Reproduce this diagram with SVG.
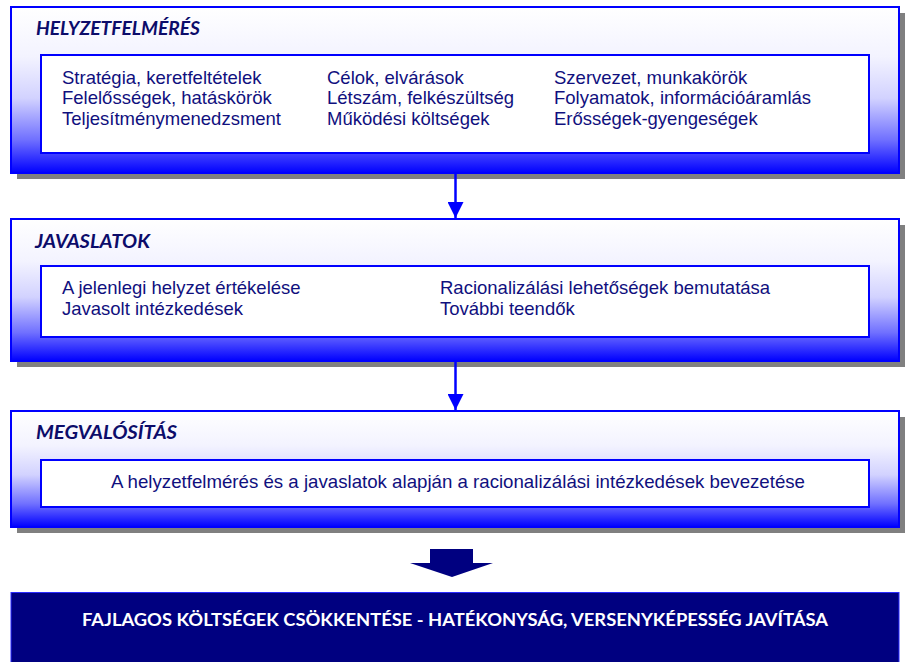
<svg xmlns="http://www.w3.org/2000/svg" width="907" height="662" viewBox="0 0 907 662">
<defs>
<linearGradient id="g" x1="0" y1="0" x2="0" y2="1">
<stop offset="0" stop-color="#ffffff"/>
<stop offset="0.3" stop-color="#f3f3ff"/>
<stop offset="0.55" stop-color="#d2d2ff"/>
<stop offset="0.8" stop-color="#7070ff"/>
<stop offset="1" stop-color="#0000ff"/>
</linearGradient>
<marker id="ah" viewBox="0 0 16 16" refX="16" refY="8" markerWidth="16" markerHeight="16" markerUnits="userSpaceOnUse" orient="auto">
<path d="M0,0 L16,8 L0,16 Z" fill="#0000ff"/>
</marker>
<style>
.shadow{fill:#808080}
.outer{fill:url(#g);stroke:#0000ff;stroke-width:2}
.inner{fill:#ffffff;stroke:#0000ff;stroke-width:2}
.title{font-family:Lato,"Liberation Sans",sans-serif;font-weight:bold;font-style:italic;font-size:18px;fill:#0c0c6a}
.body{font-family:"Liberation Sans",Arial,sans-serif;font-size:18.5px;fill:#10107e}
.conn{stroke:#0000ff;stroke-width:2.5;fill:none}
.final{font-family:Lato,"Liberation Sans",sans-serif;font-weight:bold;font-size:16.5px;fill:#ffffff}
</style>
</defs>

<g id="helyzetfelmeres">
<rect class="shadow" x="17" y="13" width="888" height="166"/>
<rect class="outer" x="11" y="7" width="888" height="166"/>
<text class="title" x="36" y="35" textLength="164" lengthAdjust="spacingAndGlyphs">HELYZETFELMÉRÉS</text>
<rect class="inner" x="41" y="55" width="828" height="98"/>
<text class="body" x="62" y="83.5">Stratégia, keretfeltételek</text>
<text class="body" x="62" y="104">Felelősségek, hatáskörök</text>
<text class="body" x="62" y="125">Teljesítménymenedzsment</text>
<text class="body" x="327" y="83.5">Célok, elvárások</text>
<text class="body" x="327" y="104">Létszám, felkészültség</text>
<text class="body" x="327" y="125">Működési költségek</text>
<text class="body" x="554" y="83.5">Szervezet, munkakörök</text>
<text class="body" x="554" y="104">Folyamatok, információáramlás</text>
<text class="body" x="554" y="125">Erősségek-gyengeségek</text>
</g>

<g id="javaslatok">
<rect class="shadow" x="17" y="225" width="888" height="142"/>
<rect class="outer" x="11" y="219" width="888" height="142"/>
<text class="title" x="35" y="247.5" textLength="115" lengthAdjust="spacingAndGlyphs">JAVASLATOK</text>
<rect class="inner" x="41" y="266" width="828" height="71"/>
<text class="body" x="62" y="293.5">A jelenlegi helyzet értékelése</text>
<text class="body" x="62" y="314.5">Javasolt intézkedések</text>
<text class="body" x="440" y="293.5">Racionalizálási lehetőségek bemutatása</text>
<text class="body" x="440" y="314.5">További teendők</text>
</g>

<g id="megvalositas">
<rect class="shadow" x="17" y="417" width="888" height="116"/>
<rect class="outer" x="11" y="411" width="888" height="116"/>
<text class="title" x="36" y="439" textLength="141" lengthAdjust="spacingAndGlyphs">MEGVALÓSÍTÁS</text>
<rect class="inner" x="41" y="460" width="828" height="47"/>
<text class="body" x="111" y="488" font-size="17" textLength="694" lengthAdjust="spacingAndGlyphs">A helyzetfelmérés és a javaslatok alapján a racionalizálási intézkedések bevezetése</text>
</g>

<g id="eredmeny">
<path d="M430,549 L473,549 L473,563 L493,563 L452,577 L410,563 L430,563 Z" fill="#000080"/>
<rect x="11" y="592.5" width="888" height="75" fill="#000080" stroke="#2a2aff" stroke-width="1"/>
<text class="final" x="82" y="625.5" textLength="746" lengthAdjust="spacingAndGlyphs">FAJLAGOS KÖLTSÉGEK CSÖKKENTÉSE - HATÉKONYSÁG, VERSENYKÉPESSÉG JAVÍTÁSA</text>
</g>

<g id="connectors">
<line class="conn" x1="455.5" y1="174" x2="455.5" y2="218" marker-end="url(#ah)"/>
<line class="conn" x1="455.5" y1="362" x2="455.5" y2="410" marker-end="url(#ah)"/>
</g>
</svg>
